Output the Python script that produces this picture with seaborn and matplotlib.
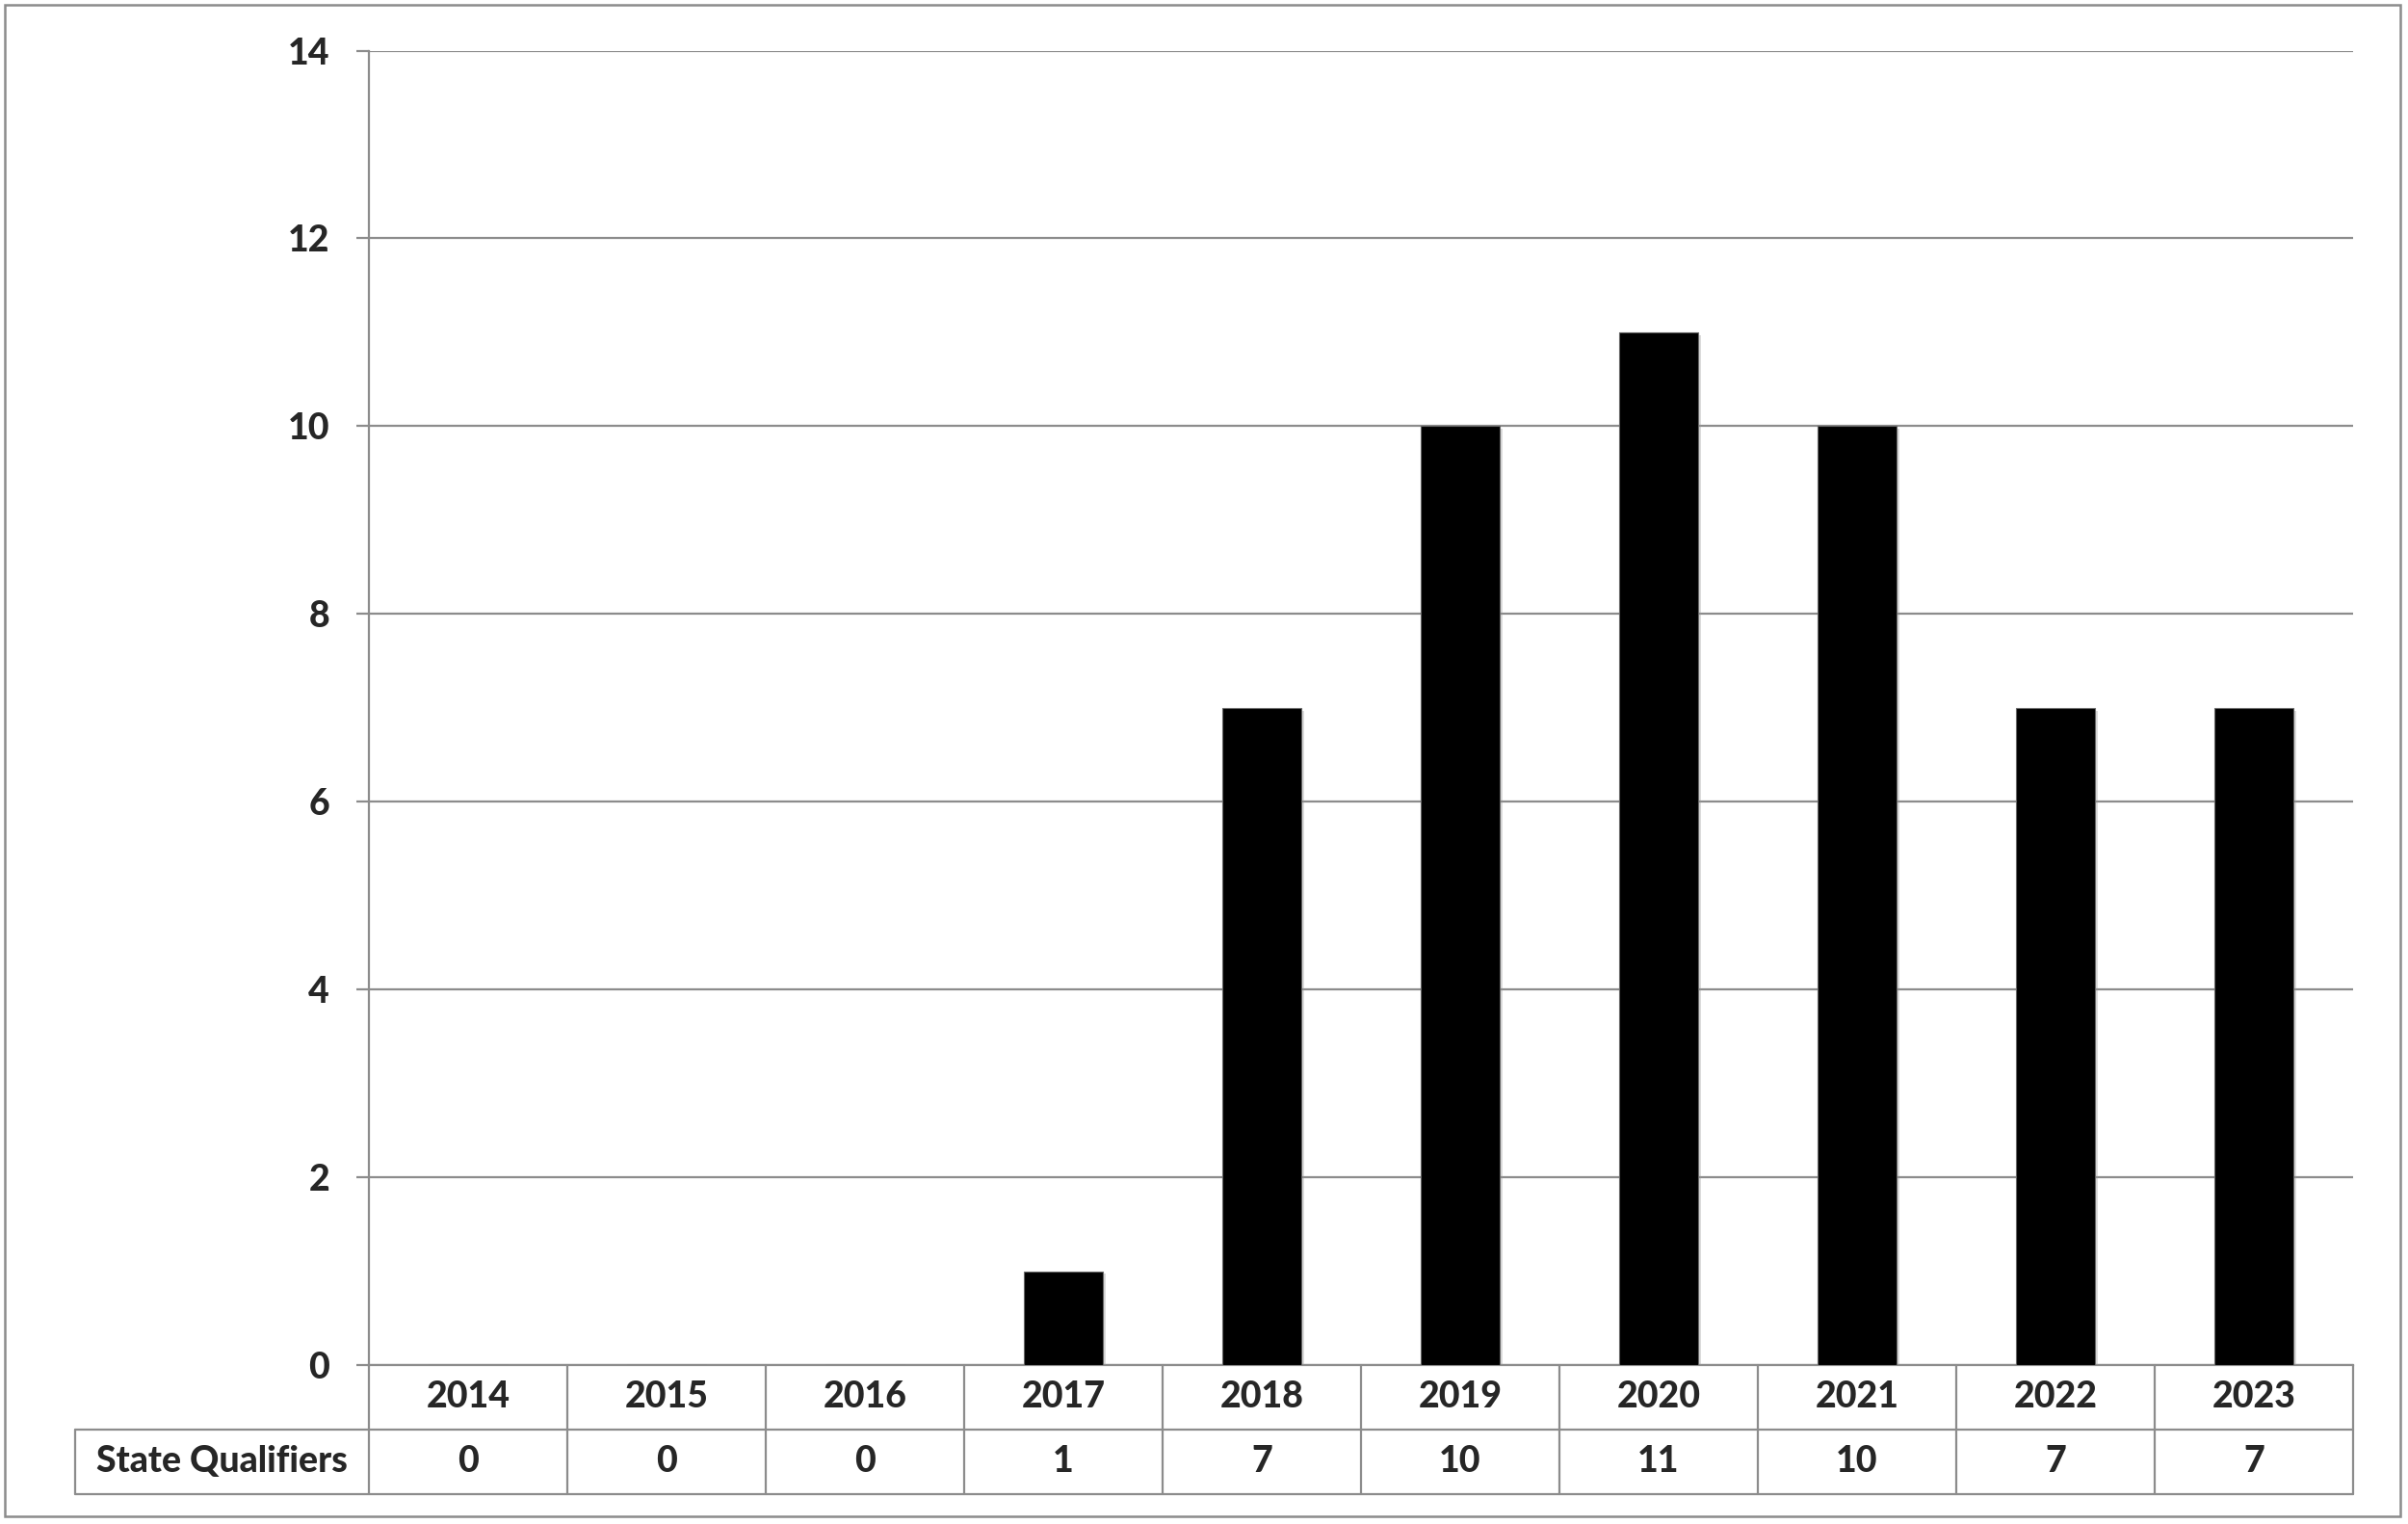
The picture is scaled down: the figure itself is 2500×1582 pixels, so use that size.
import matplotlib
matplotlib.use('Agg')
import matplotlib.pyplot as plt
import matplotlib.patheffects as pe
from matplotlib.patches import Rectangle
import seaborn as sns
import pandas as pd

# data
years = ['2014', '2015', '2016', '2017', '2018', '2019', '2020', '2021', '2022', '2023']
qualifiers = [0, 0, 0, 1, 7, 10, 11, 10, 7, 7]
row_label = 'State Qualifiers'
y_ticks = [0, 2, 4, 6, 8, 10, 12, 14]

sns.set_style('white')
plt.rcParams['font.family'] = ['Lato', 'DejaVu Sans']

GRID = '#8c8c8c'
FS = 27
FW = 900

df = pd.DataFrame({'year': years, 'n': qualifiers})

fig = plt.figure(figsize=(25, 15.82), dpi=100)
ax = fig.add_axes([0.1532, 0.1043, 0.824, 0.8625])

sns.barplot(data=df, x='year', y='n', color='black', saturation=1,
            width=0.4, edgecolor='#666666', linewidth=0.8, ax=ax, zorder=3)
for p in ax.patches:
    p.set_path_effects([pe.SimplePatchShadow(offset=(2, -2), shadow_rgbFace='#999999', alpha=0.35),
                        pe.Normal()])

ax.set_ylim(0, 14)
ax.set_xlim(-0.5, len(years) - 0.5)
ax.set_yticks(y_ticks)
ax.set_yticklabels([str(t) for t in y_ticks], fontsize=FS, fontweight=FW)
ax.set_xticks([])
ax.set_xlabel('')
ax.set_ylabel('')
ax.yaxis.grid(True, color=GRID, linewidth=1.6, zorder=0)
ax.set_axisbelow(True)
ax.tick_params(axis='y', length=9.5, width=1.6, color=GRID, pad=20, left=True)

for s in ['top', 'right']:
    ax.spines[s].set_visible(False)
for s in ['left', 'bottom']:
    ax.spines[s].set_color(GRID)
    ax.spines[s].set_linewidth(1.6)

# data table underneath the axis
trans = ax.get_xaxis_transform()
rh = 0.049
lab_left = -0.5 - (383 - 78) / 206.0
lkw = dict(color=GRID, linewidth=1.6, transform=trans, clip_on=False)
ax.plot([lab_left, len(years) - 0.5], [-rh, -rh], **lkw)
ax.plot([lab_left, len(years) - 0.5], [-2 * rh, -2 * rh], **lkw)
for i in range(len(years) + 1):
    ax.plot([i - 0.5, i - 0.5], [0, -2 * rh], **lkw)
ax.plot([lab_left, lab_left], [-rh, -2 * rh], **lkw)

for i, (yr, v) in enumerate(zip(years, qualifiers)):
    ax.text(i, -rh / 2, yr, transform=trans, ha='center', va='center',
            fontsize=FS, fontweight=FW)
    ax.text(i, -1.5 * rh, str(v), transform=trans, ha='center', va='center',
            fontsize=FS, fontweight=FW)
ax.text((lab_left - 0.5) / 2, -1.5 * rh, row_label, transform=trans,
        ha='center', va='center', fontsize=FS, fontweight=FW)

# chart area border
fig.patches.append(Rectangle((5 / 2500, 1 - 1574 / 1582), 2487 / 2500, 1569 / 1582,
                             transform=fig.transFigure, fill=False,
                             edgecolor=GRID, linewidth=1.8))

fig.savefig('out.png', dpi=100, facecolor='white')
